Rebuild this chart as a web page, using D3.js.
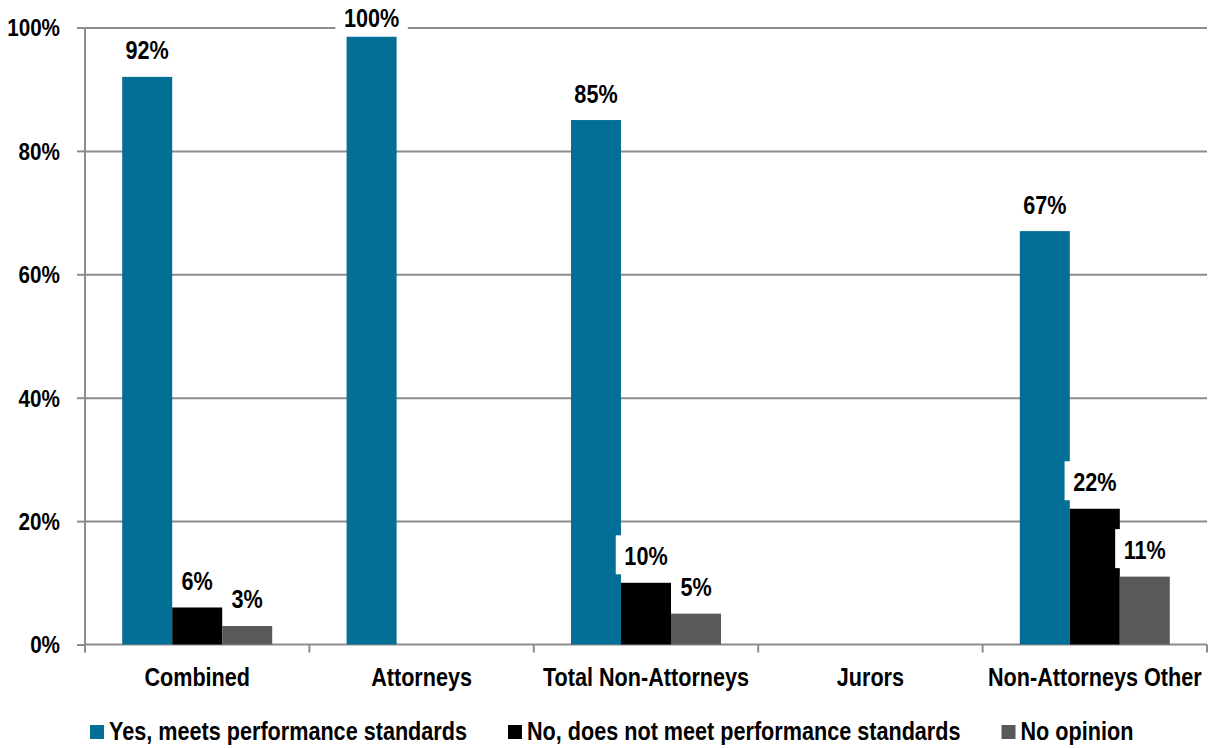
<!DOCTYPE html>
<html>
<head>
<meta charset="utf-8">
<script src="https://cdn.jsdelivr.net/npm/d3@7"></script>
<style>
    body { margin: 0; background: #fff; }
    svg text { font-family: "Liberation Sans", Arial, sans-serif; font-weight: bold; fill: #000; }
</style>
</head>
<body>
<svg id="chart" width="1212" height="748"></svg>
<script>
document.addEventListener("DOMContentLoaded", function() {

    // Data
    const categories = ["Combined", "Attorneys", "Total Non-Attorneys", "Jurors", "Non-Attorneys Other"];
    const seriesNames = ["Yes, meets performance standards", "No, does not meet performance standards", "No opinion"];
    const yesValues = [92, 98.5, 85, null, 67];
    const noValues = [6, null, 10, null, 22];
    const noOpinionValues = [3, null, 5, null, 11];
    const yesLabels = ["92%", "100%", "85%", null, "67%"];
    const noLabels = ["6%", null, "10%", null, "22%"];
    const noOpinionLabels = ["3%", null, "5%", null, "11%"];
    const yTicks = [0, 20, 40, 60, 80, 100];

    // Display settings
    const colors = ["#036f96", "#000000", "#595959"];
    const gridColor = "#8c8c8c";
    const squash = 0.865; // narrow look of the original font
    const fontSize = 25;
    const plot = {left: 85, right: 1207, top: 27.5, bottom: 644.5};

    const svg = d3.select("#chart");

    ////////// Scales //////////
    const x0 = d3.scaleBand().domain(categories).range([plot.left, plot.right]).padding(0);
    const x1 = d3.scaleBand().domain(seriesNames).range([0, x0.bandwidth()])
        .paddingInner(0).paddingOuter(0.744);
    const y = d3.scaleLinear().domain([0, 100]).range([plot.bottom, plot.top]);

    const seriesValues = [yesValues, noValues, noOpinionValues];
    const seriesLabels = [yesLabels, noLabels, noOpinionLabels];

    ////////// Grid and axes //////////
    svg.append("g")
        .attr("transform", `translate(${plot.left},0)`)
        .call(d3.axisLeft(y).tickValues(yTicks.filter(d => d > 0))
            .tickSize(-(plot.right - plot.left)).tickFormat(""))
        .call(g => g.select(".domain").remove())
        .call(g => g.selectAll("line").attr("stroke", gridColor).attr("stroke-width", 2));

    const yAxis = svg.append("g")
        .attr("transform", `translate(${plot.left},0)`)
        .call(d3.axisLeft(y).tickValues(yTicks).tickSize(8).tickPadding(17).tickFormat(d => d + "%"));
    yAxis.select(".domain").remove();
    yAxis.selectAll("line").attr("stroke", gridColor).attr("stroke-width", 2);
    yAxis.selectAll("text")
        .attr("font-size", 23.5)
        .attr("dy", "0.36em")
        .attr("transform", `scale(0.88,1)`)
        .attr("x", -25 / 0.88);

    // y axis line
    svg.append("line")
        .attr("x1", plot.left).attr("x2", plot.left)
        .attr("y1", y(100)).attr("y2", y(0) + 8)
        .attr("stroke", gridColor).attr("stroke-width", 2);

    // x axis
    const xAxis = svg.append("g")
        .attr("transform", `translate(0,${y(0)})`)
        .call(d3.axisBottom(x0).tickSize(0).tickPadding(42));
    xAxis.select(".domain").remove();
    xAxis.selectAll("text")
        .attr("font-size", fontSize)
        .attr("dy", "0")
        .attr("transform", `scale(${squash},1)`);

    svg.append("line")
        .attr("x1", plot.left).attr("x2", plot.right)
        .attr("y1", y(0)).attr("y2", y(0))
        .attr("stroke", gridColor).attr("stroke-width", 2);

    const boundaries = categories.map(c => x0(c)).concat([x0.range()[1]]);
    svg.append("g").selectAll("line")
        .data(boundaries)
        .enter().append("line")
        .attr("x1", d => d).attr("x2", d => d)
        .attr("y1", y(0)).attr("y2", y(0) + 8)
        .attr("stroke", gridColor).attr("stroke-width", 2);

    ////////// Bars //////////
    const barData = [];
    seriesValues.forEach((vals, s) => {
        vals.forEach((v, i) => {
            if (v != null) barData.push({cat: categories[i], s: s, value: v, label: seriesLabels[s][i]});
        });
    });

    svg.append("g").selectAll("rect")
        .data(barData)
        .enter().append("rect")
        .attr("x", d => x0(d.cat) + x1(seriesNames[d.s]))
        .attr("y", d => y(d.value))
        .attr("width", x1.bandwidth())
        .attr("height", d => y(0) - y(d.value))
        .attr("fill", d => colors[d.s]);

    ////////// Data labels (white box behind) //////////
    const labels = svg.append("g").selectAll("g")
        .data(barData)
        .enter().append("g")
        .attr("transform", d => {
            const cx = x0(d.cat) + x1(seriesNames[d.s]) + x1.bandwidth() / 2;
            const base = Math.max(y(d.value) - 17.5, y(100) - 0.8);
            return `translate(${cx},${base})`;
        });

    labels.append("rect").attr("fill", "#fff");
    labels.append("text")
        .attr("text-anchor", "middle")
        .attr("font-size", fontSize)
        .attr("transform", `scale(${squash},1)`)
        .text(d => d.label);

    labels.each(function() {
        const g = d3.select(this);
        const w = g.select("text").node().getBBox().width * squash;
        g.select("rect")
            .attr("x", -w / 2 - 8.5)
            .attr("y", -30)
            .attr("width", w + 17)
            .attr("height", 39);
    });

    ////////// Legend //////////
    const legend = svg.append("g").attr("transform", "translate(90,739.5)");
    let lx = 0;
    seriesNames.forEach((name, i) => {
        const item = legend.append("g").attr("transform", `translate(${lx},0)`);
        item.append("rect")
            .attr("x", 0).attr("y", -14.5)
            .attr("width", 14).attr("height", 14)
            .attr("fill", colors[i]);
        const t = item.append("text")
            .attr("font-size", fontSize)
            .attr("transform", `translate(19,0) scale(${squash},1)`)
            .text(name);
        lx += 19 + t.node().getBBox().width * squash + 41;
    });

});
</script>
</body>
</html>
